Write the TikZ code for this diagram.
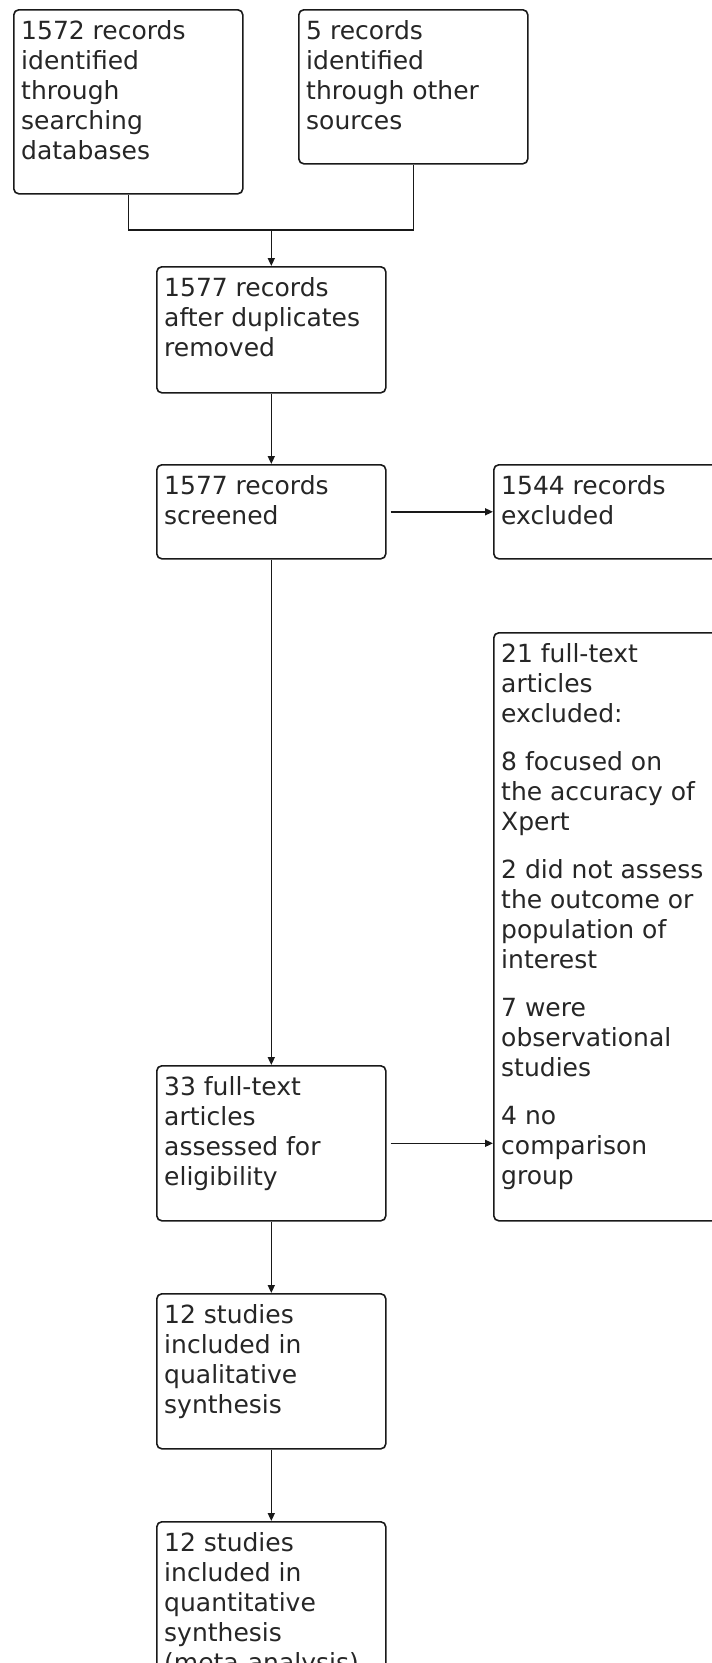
\documentclass[tikz,border=0pt]{standalone}
\usepackage{fontspec}
\setmainfont{DejaVu Sans}
\usetikzlibrary{arrows.meta,calc}
\tikzset{
  box/.style={draw=black!90, line width=1.6pt, rounded corners=5pt, inner sep=0pt, anchor=north west, minimum width=229pt},
  wbox/.style={box, minimum width=242pt},
  txt/.style={inner sep=0pt, anchor=base west, font=\fontsize{25}{30}\selectfont, text=black!85},
  conn/.style={draw=black!90, line width=1.6pt},
  arr/.style={conn, -{Triangle[length=8pt,width=7pt]}},
}
\newcommand{\boxtext}[1]{\parbox[t]{218pt}{\raggedright\baselineskip=30pt #1}}
\begin{document}
\begin{tikzpicture}[x=1pt,y=-1pt]
\useasboundingbox (0,0) rectangle (712,1663);
\fill[white] (0,0) rectangle (712,1663);
\begin{scope}
\clip (0,0) rectangle (712,1663);
% boxes
\node[box, minimum height=184pt] (b1) at (13,9) {};
\node[box, minimum height=154pt] (b2) at (298,9) {};
\node[box, minimum height=126pt] (b3) at (156,266) {};
\node[box, minimum height=94pt]  (b4) at (156,464) {};
\node[wbox, minimum height=94pt] (b5) at (493,464) {};
\node[wbox, minimum height=588pt] (b6) at (493,632) {};
\node[box, minimum height=155pt] (b7) at (156,1065) {};
\node[box, minimum height=155pt] (b8) at (156,1293) {};
\node[box, minimum height=200pt] (b9) at (156,1521) {};
% texts
\node[txt] (t1) at ($(b1.north west)+(8,30)$) {\boxtext{1572 records\\identified\\through\\searching\\databases}};
\node[txt] (t2) at ($(b2.north west)+(8,30)$) {\boxtext{5 records\\identified\\through other\\sources}};
\node[txt] (t3) at ($(b3.north west)+(8,30)$) {\boxtext{1577 records\\after duplicates\\removed}};
\node[txt] (t4) at ($(b4.north west)+(8,30)$) {\boxtext{1577 records\\screened}};
\node[txt] (t5) at ($(b5.north west)+(8,30)$) {\boxtext{1544 records\\excluded}};
\node[txt] (t6) at ($(b6.north west)+(8,30)$) {\boxtext{21 full-text\\articles\\excluded:\\[18pt]8 focused on\\the accuracy of\\Xpert\\[18pt]2 did not assess\\the outcome or\\population of\\interest\\[18pt]7 were\\observational\\studies\\[18pt]4 no\\comparison\\group}};
\node[txt] (t7) at ($(b7.north west)+(8,30)$) {\boxtext{33 full-text\\articles\\assessed for\\eligibility}};
\node[txt] (t8) at ($(b8.north west)+(8,30)$) {\boxtext{12 studies\\included in\\qualitative\\synthesis}};
\node[txt] (t9) at ($(b9.north west)+(8,30)$) {\boxtext{12 studies\\included in\\quantitative\\synthesis\\(meta-analysis)}};
% connectors
\path (b3.north) ++(0,-36) coordinate (m);
\draw[conn] (b1.south) |- (m);
\draw[conn] (b2.south) |- (m);
\draw[arr] (m) -- (b3.north);
\draw[arr] (b3.south) -- (b4.north);
\draw[arr, shorten <=4pt] (b4.east) -- (b4.east -| b5.west);
\draw[arr] (b4.south) -- (b7.north);
\draw[arr, shorten <=4pt] (b7.east) -- (b7.east -| b6.west);
\draw[arr] (b7.south) -- (b8.north);
\draw[arr] (b8.south) -- (b9.north);
\end{scope}
\end{tikzpicture}
\end{document}
